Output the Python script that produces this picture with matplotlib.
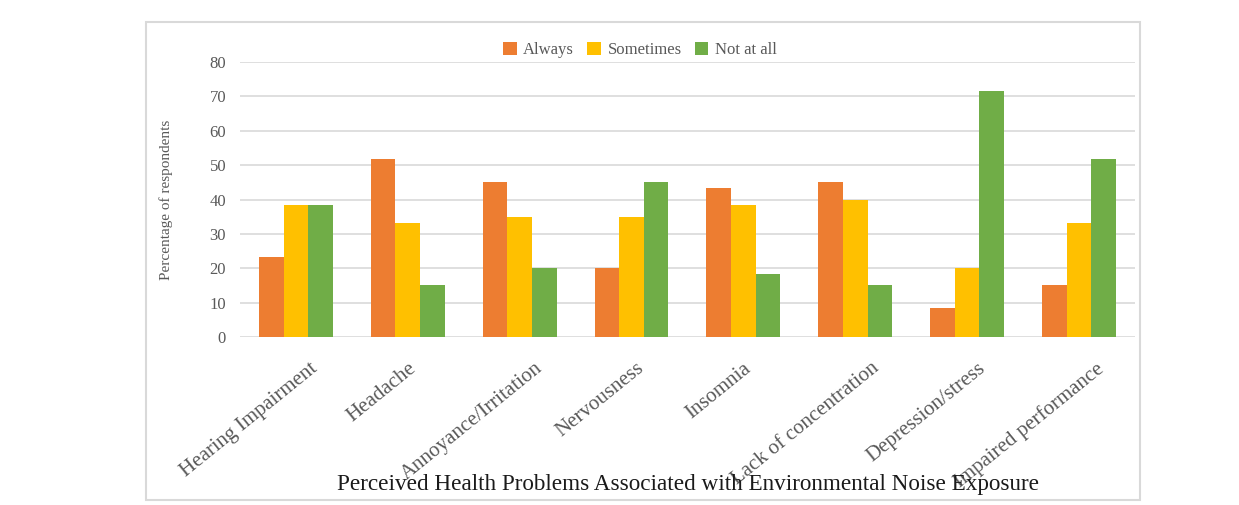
import numpy as np
import matplotlib
matplotlib.use("Agg")
import matplotlib.pyplot as plt
import matplotlib.transforms as mtransforms
from matplotlib.patches import Rectangle

#Data
categories = ["Hearing Impairment", "Headache", "Annoyance/Irritation", "Nervousness",
              "Insomnia", "Lack of concentration", "Depression/stress", "Impaired performance"]
always = [23.3, 51.7, 45.0, 20.0, 43.3, 45.0, 8.3, 15.0]
sometimes = [38.3, 33.3, 35.0, 35.0, 38.3, 40.0, 20.0, 33.3]
not_at_all = [38.3, 15.0, 20.0, 45.0, 18.3, 15.0, 71.7, 51.7]
yticks = [0, 10, 20, 30, 40, 50, 60, 70, 80]

plt.rcParams['font.family'] = ['Liberation Serif', 'DejaVu Serif']
grey = '#595959'

fig = plt.figure(figsize=(12.39, 5.05), dpi=100)
ax = fig.add_axes([0.1937, 0.3327, 0.7223, 0.5443])

#Outer chart border
fig.patches.append(Rectangle((0.1178, 0.0099), 0.8022, 0.9461, transform=fig.transFigure,
                             fill=False, edgecolor='#d9d9d9', linewidth=1.5))

x = np.arange(len(categories))
w = 0.22
ax.bar(x - w, always, w, color='#ed7d31', label='Always')
ax.bar(x, sometimes, w, color='#ffc000', label='Sometimes')
ax.bar(x + w, not_at_all, w, color='#70ad47', label='Not at all')

ax.set_xlim(-0.5, len(categories) - 0.5)
ax.set_ylim(0, 80)
ax.set_yticks(yticks)
ax.tick_params(axis='y', length=0, labelsize=12, labelcolor=grey, pad=10)
ax.tick_params(axis='x', length=0, pad=2)
ax.set_xticks(x)
ax.set_xticklabels(categories, rotation=39, ha='right', va='top', rotation_mode='anchor',
                   fontsize=15, color=grey)

#Excel-style placement: longer labels sit further right of their tick
renderer = fig.canvas.get_renderer()
for lbl in ax.get_xticklabels():
    tw, th, td = renderer.get_text_width_height_descent(lbl.get_text(), lbl.get_fontproperties(), ismath=False)
    dx = (-12 + 0.152 * tw) / fig.dpi
    offset = mtransforms.ScaledTranslation(dx, -0.19, fig.dpi_scale_trans)
    lbl.set_transform(lbl.get_transform() + offset)

ax.yaxis.grid(True, color='#d9d9d9', linewidth=1.2)
ax.set_axisbelow(True)
for s in ax.spines.values():
    s.set_visible(False)

ax.set_ylabel("Percentage of respondents", fontsize=11, color=grey, labelpad=26)

ax.legend(loc='lower center', bbox_to_anchor=(0.447, 0.99), ncol=3, frameon=False,
          fontsize=12, labelcolor=grey, handlelength=0.8, handleheight=0.8,
          handletextpad=0.4, columnspacing=0.8, borderaxespad=0)

fig.text(0.555, 0.040, "Perceived Health Problems Associated with Environmental Noise Exposure",
         ha='center', va='center', fontsize=16.7, color='#1a1a1a')

plt.savefig("out.png", dpi=100)
